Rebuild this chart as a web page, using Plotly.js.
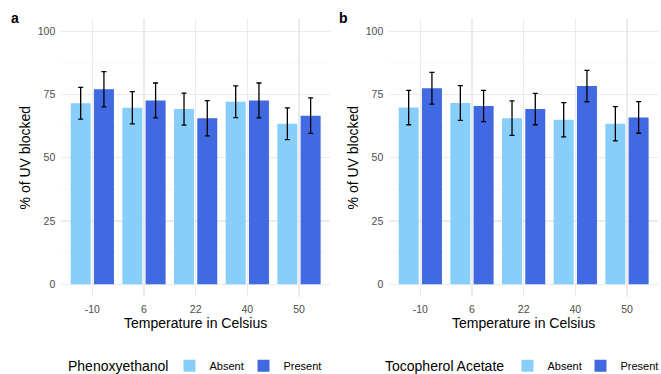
<!DOCTYPE html>
<html>
<head>
<meta charset="utf-8">
<script src="https://cdn.plot.ly/plotly-3.0.1.min.js"></script>
<style>html,body{margin:0;padding:0;background:#fff;} #chart{width:661px;height:374px;}</style>
</head>
<body>
<div id="chart"></div>
<script>
// Categories (temperature in Celsius)
const temps = ["-10", "6", "22", "40", "50"];
const yTicks = [0, 25, 50, 75, 100];
const groups = ["Absent", "Present"];
const legendTitles = ["Phenoxyethanol", "Tocopherol Acetate"];

// Panel a: Phenoxyethanol
const phenoAbsent = [71.5, 69.7, 69.2, 72.1, 63.4];
const phenoAbsentErr = [6.3, 6.35, 6.3, 6.25, 6.25];
const phenoPresent = [77.0, 72.6, 65.6, 72.6, 66.6];
const phenoPresentErr = [6.95, 6.9, 6.95, 6.9, 7.0];

// Panel b: Tocopherol Acetate
const tocoAbsent = [69.8, 71.6, 65.6, 65.0, 63.4];
const tocoAbsentErr = [6.8, 6.85, 6.8, 6.75, 6.75];
const tocoPresent = [77.4, 70.4, 69.2, 78.3, 65.9];
const tocoPresentErr = [6.25, 6.15, 6.2, 6.2, 6.25];

const colAbsent = "#87CEFA";
const colPresent = "#4169E1";
const FONT = "Liberation Sans, Arial, Helvetica, sans-serif";

function barTrace(name, y, err, color, xa, ya, legend) {
  return {
    type: "bar", name: name, x: temps, y: y,
    xaxis: xa, yaxis: ya, legend: legend,
    marker: {color: color, line: {width: 0}},
    error_y: {type: "data", array: err, visible: true, color: "#000000", thickness: 1.3, width: 2.5},
    hoverinfo: "x+y"
  };
}

const data = [
  barTrace(groups[0], phenoAbsent, phenoAbsentErr, colAbsent, "x", "y", "legend"),
  barTrace(groups[1], phenoPresent, phenoPresentErr, colPresent, "x", "y", "legend2"),
  barTrace(groups[0], tocoAbsent, tocoAbsentErr, colAbsent, "x2", "y2", "legend3"),
  barTrace(groups[1], tocoPresent, tocoPresentErr, colPresent, "x2", "y2", "legend4")
];

const W = 661, H = 374;
const yDomain = [(H - 297) / H, (H - 18.4) / H];
const legendY = (H - 365.7) / H;

function xAxis(domain, anchor) {
  return {
    domain: domain, anchor: anchor, type: "category", range: [-0.6, 4.6],
    showgrid: true, gridcolor: "#EBEBEB", gridwidth: 1.1, zeroline: false, showline: false,
    ticks: "", tickfont: {family: FONT, size: 10.5, color: "#4D4D4D"}, ticklabelstandoff: 4,
    title: {text: "Temperature in Celsius", font: {family: FONT, size: 14, color: "#000"}, standoff: 4},
    fixedrange: true
  };
}
function yAxis(anchor) {
  return {
    domain: yDomain, anchor: anchor, range: [-5, 105], tickvals: yTicks, ticktext: yTicks.map(String),
    showgrid: true, gridcolor: "#EBEBEB", gridwidth: 1.1, zeroline: false, showline: false,
    minor: {tickvals: [12.5, 37.5, 62.5, 87.5], showgrid: true, gridcolor: "#F4F4F4", gridwidth: 0.6, ticks: ""},
    ticks: "", tickfont: {family: FONT, size: 10.5, color: "#4D4D4D"}, ticklabelstandoff: 5,
    title: {text: "% of UV blocked", font: {family: FONT, size: 14, color: "#000"}, standoff: 3},
    fixedrange: true
  };
}

function legendCfg(x) {
  return {
    orientation: "h", x: x / W, xanchor: "left", y: legendY, yanchor: "middle",
    font: {family: FONT, size: 11, color: "#000"}, bgcolor: "rgba(0,0,0,0)",
    itemwidth: 30, traceorder: "normal", borderwidth: 0
  };
}

function legendTitle(text, x) {
  return {text: text, xref: "paper", yref: "paper", x: x / W, y: legendY, xanchor: "left", yanchor: "middle",
    showarrow: false, font: {family: FONT, size: 14, color: "#000"}};
}

const layout = {
  width: W, height: H,
  margin: {l: 0, r: 0, t: 0, b: 0, autoexpand: false},
  paper_bgcolor: "#ffffff", plot_bgcolor: "#ffffff",
  font: {family: FONT},
  barmode: "group", bargap: 0.1, bargroupgap: 0.14,
  xaxis: xAxis([61.3 / W, 330 / W], "y"),
  yaxis: yAxis("x"),
  xaxis2: xAxis([389.3 / W, 658 / W], "y2"),
  yaxis2: yAxis("x2"),
  showlegend: true,
  legend: legendCfg(169.5),
  legend2: legendCfg(243.5),
  legend3: legendCfg(507.5),
  legend4: legendCfg(580.5),
  annotations: [
    {text: "<b>a</b>", xref: "paper", yref: "paper", x: 15 / W, y: (H - 18) / H, xanchor: "center", yanchor: "middle", showarrow: false, font: {family: FONT, size: 14, color: "#000"}},
    {text: "<b>b</b>", xref: "paper", yref: "paper", x: 343 / W, y: (H - 18) / H, xanchor: "center", yanchor: "middle", showarrow: false, font: {family: FONT, size: 14, color: "#000"}},
    legendTitle(legendTitles[0], 66),
    legendTitle(legendTitles[1], 383)
  ]
};

Plotly.newPlot("chart", data, layout, {displayModeBar: false, staticPlot: true});
</script>
</body>
</html>
